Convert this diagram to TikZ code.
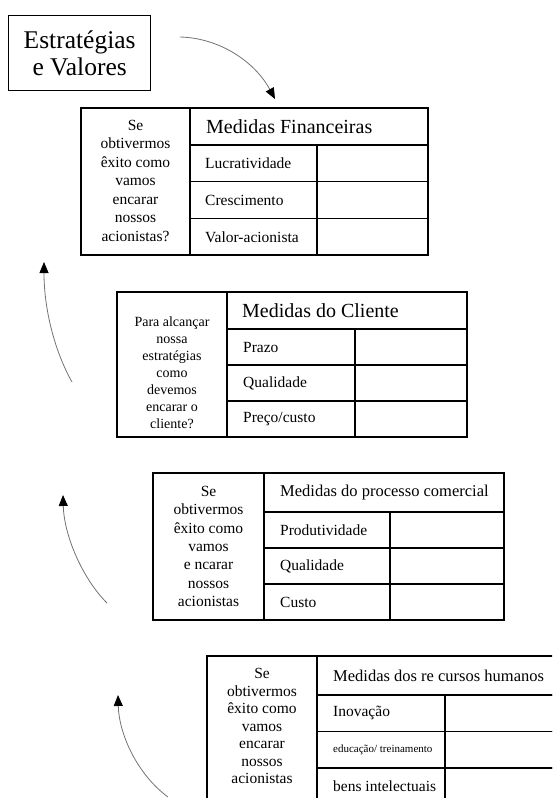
\documentclass[tikz,border=0pt]{standalone}
\usepackage{fontspec}
\setmainfont{Liberation Serif}
\usetikzlibrary{arrows.meta}

\tikzset{
  cell/.style={draw=black, line width=1.3pt, inner sep=0pt, outer sep=0pt, anchor=north west},
  qtext/.style={align=center, inner sep=0pt},
  htext/.style={anchor=west, inner sep=0pt},
  ltext/.style={anchor=west, inner sep=0pt, font=\fontsize{15.5}{17}\selectfont},
  flow/.style={draw=black!55, line width=0.8pt,
    -{Triangle[length=11pt,width=9pt,color=black]}},
}

% one measures table: question column, header, three label rows with value cells
% #1 prefix, #2 x, #3 y, #4 question width, #5 label width, #6 value width,
% #7 header height, #8 row height
\newcommand\mtable[8]{%
  \node[cell, minimum width=#4pt, minimum height={#7pt+3*#8pt}] (#1q) at (#2,#3) {};
  \node[cell, minimum width={#5pt+#6pt}, minimum height=#7pt] (#1h) at (#2+#4,#3) {};
  \foreach \i in {1,2,3}{
    \node[cell, minimum width=#5pt, minimum height=#8pt] (#1l\i) at (#2+#4,{#3+#7+(\i-1)*#8}) {};
    \node[cell, minimum width=#6pt, minimum height=#8pt] (#1v\i) at (#2+#4+#5,{#3+#7+(\i-1)*#8}) {};
  }}

\begin{document}
\begin{tikzpicture}[x=1pt, y=-1pt]
\useasboundingbox (0,0) rectangle (552,798);
\fill[white] (0,0) rectangle (552,798);
\clip (0,0) rectangle (552,798);

% strategy box
\node[draw, line width=1.3pt, minimum width=142pt, minimum height=75pt, anchor=north west,
      align=center, inner sep=0pt, font=\fontsize{25.5}{27}\selectfont] (ev) at (8,15)
      {Estratégias\\e Valores};

% financial perspective
\mtable{t1}{81}{108}{109}{127}{111}{37}{36.7}
\node[qtext, font=\fontsize{15.5}{18.5}\selectfont] (t1qt) at ([yshift=1pt]t1q.center)
  {Se\\obtivermos\\êxito como\\vamos\\encarar\\nossos\\acionistas?};
\node[htext, font=\fontsize{20}{22}\selectfont] (t1ht) at ([xshift=16pt]t1h.west) {Medidas Financeiras};
\node[ltext] (t1a) at ([xshift=15pt]t1l1.west) {Lucratividade};
\node[ltext] (t1b) at ([xshift=15pt]t1l2.west) {Crescimento};
\node[ltext] (t1c) at ([xshift=15pt]t1l3.west) {Valor-acionista};

% customer perspective
\mtable{t2}{117}{292}{110}{128}{112}{37}{36}
\node[qtext, font=\fontsize{14}{17}\selectfont] (t2qt) at ([yshift=-8pt]t2q.center)
  {Para alcançar\\nossa\\estratégias\\como\\devemos\\encarar o\\cliente?};
\node[htext, font=\fontsize{20}{22}\selectfont] (t2ht) at ([xshift=15pt]t2h.west) {Medidas do Cliente};
\node[ltext] (t2a) at ([xshift=16pt]t2l1.west) {Prazo};
\node[ltext] (t2b) at ([xshift=16pt]t2l2.west) {Qualidade};
\node[ltext] (t2c) at ([xshift=16pt]t2l3.west) {Preço/custo};

% internal process perspective
\mtable{t3}{153}{473}{111}{126}{114}{39}{36}
\node[qtext, font=\fontsize{15.5}{18.3}\selectfont] (t3qt) at (t3q.center)
  {Se\\obtivermos\\êxito como\\vamos\\e ncarar\\nossos\\acionistas};
\node[htext, font=\fontsize{16.5}{18}\selectfont] (t3ht) at ([xshift=16pt]t3h.west) {Medidas do processo comercial};
\node[ltext] (t3a) at ([xshift=16pt]t3l1.west) {Produtividade};
\node[ltext] (t3b) at ([xshift=16pt]t3l2.west) {Qualidade};
\node[ltext] (t3c) at ([xshift=16pt]t3l3.west) {Custo};

% human resources perspective
\mtable{t4}{207}{656}{110}{128}{112}{39}{36.5}
\node[qtext, font=\fontsize{15.5}{17.5}\selectfont] (t4qt) at ([yshift=4pt]t4q.center)
  {Se\\obtivermos\\êxito como\\vamos\\encarar\\nossos\\acionistas};
\node[htext, font=\fontsize{16.5}{18}\selectfont] (t4ht) at ([xshift=16pt]t4h.west) {Medidas dos re cursos humanos};
\node[ltext] (t4a) at ([xshift=16pt]t4l1.west) {Inovação};
\node[ltext, font=\fontsize{11}{12}\selectfont] (t4b) at ([xshift=16pt]t4l2.west) {educação/ treinamento};
\node[ltext] (t4c) at ([xshift=16pt]t4l3.west) {bens intelectuais};

% curved arrows
\coordinate (a1s) at (180,37);  \coordinate (a1e) at (275,99);
\coordinate (a2s) at (72,382);  \coordinate (a2e) at (44,262);
\coordinate (a3s) at (107,603); \coordinate (a3e) at (63,495);
\coordinate (a4s) at (168,797); \coordinate (a4e) at (118,695);
\draw[flow] (a1s) .. controls (220,38) and (255,62) .. (a1e);
\draw[flow] (a2s) .. controls (55,352) and (44,310) .. (a2e);
\draw[flow] (a3s) .. controls (82,578) and (64,535) .. (a3e);
\draw[flow] (a4s) .. controls (138,775) and (119,735) .. (a4e);
\end{tikzpicture}
\end{document}
